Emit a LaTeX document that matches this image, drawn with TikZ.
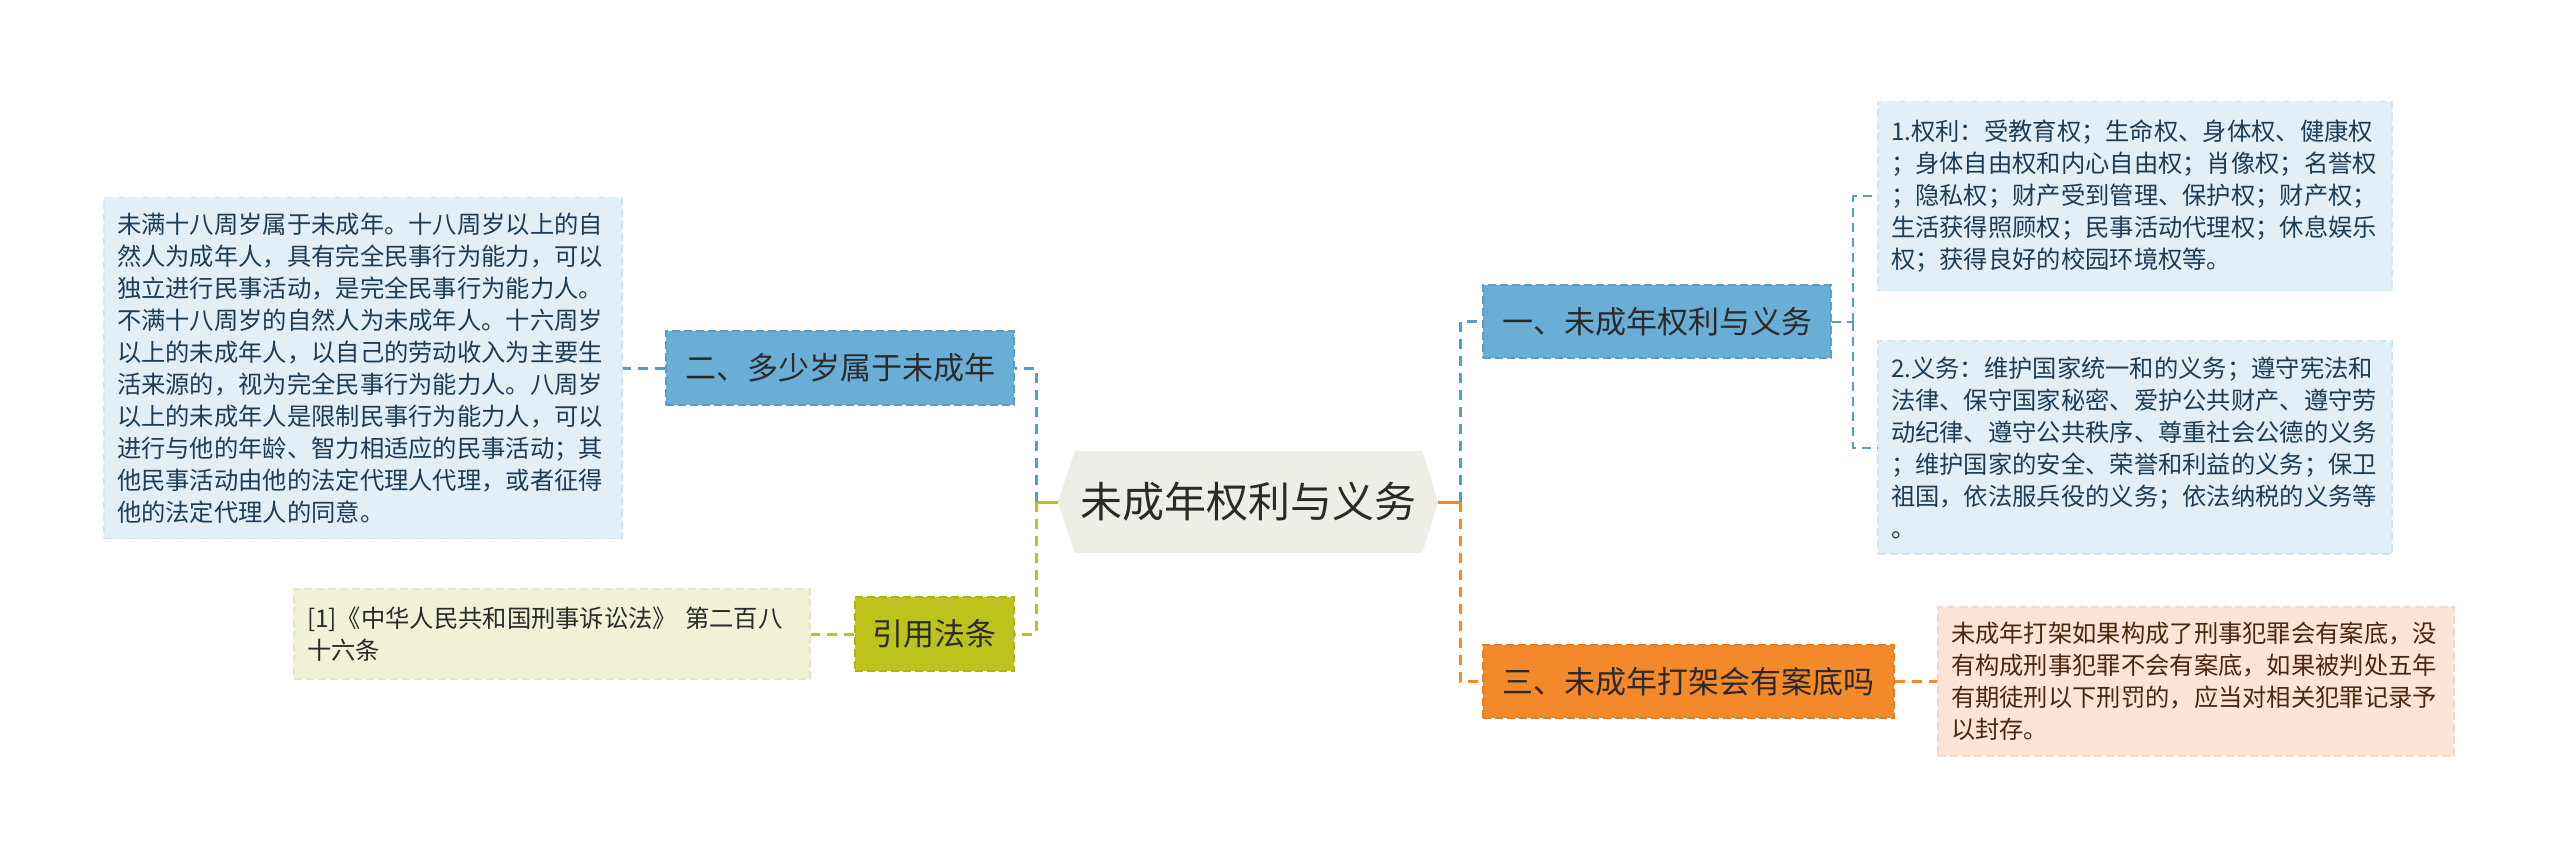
\documentclass[tikz,border=0pt]{standalone}
\usepackage{fontspec}
\setmainfont{Noto Sans CJK SC}
\usetikzlibrary{backgrounds}
\definecolor{cblue}{HTML}{6AAED6}
\definecolor{cbluedk}{HTML}{5A9CC6}
\definecolor{lblue}{HTML}{E2EFF7}
\definecolor{lbluedk}{HTML}{D3E5F0}
\definecolor{navy}{HTML}{1B3D57}
\definecolor{cgreen}{HTML}{BDC31B}
\definecolor{cgreendk}{HTML}{AEB418}
\definecolor{lgreen}{HTML}{F1F2D6}
\definecolor{lgreendk}{HTML}{E5E7C6}
\definecolor{corange}{HTML}{F4892B}
\definecolor{corangedk}{HTML}{E57B22}
\definecolor{lorange}{HTML}{FCE5D6}
\definecolor{lorangedk}{HTML}{F5D8C5}
\definecolor{brownt}{HTML}{4A2810}
\definecolor{cgrey}{HTML}{EEEEE7}
\definecolor{darkt}{HTML}{2A2A2A}
\begin{document}
\begin{tikzpicture}[x=1pt,y=-1pt,
  topic/.style={rectangle, inner sep=0pt, font=\fontsize{31}{36}\selectfont, text=darkt, line width=1.5pt, dash pattern=on 8pt off 4pt},
  tbox/.style={rectangle, inner xsep=13pt, inner ysep=0pt, align=left, font=\fontsize{24.3}{32}\selectfont, line width=1.5pt, dash pattern=on 8pt off 4pt},
  conn/.style={line width=3pt, dash pattern=on 10pt off 7pt},
  thin/.style={line width=2pt, dash pattern=on 9pt off 6pt},
  stub/.style={line width=3pt}]
\useasboundingbox (0,0) rectangle (2560,863);

% center
\node[inner sep=0pt, minimum width=380pt, minimum height=102pt, font=\fontsize{42}{48}\selectfont, text=darkt] (c) at (1248,502) {未成年权利与义务};
\begin{pgfonlayer}{background}
\fill[cgrey] (c.west) -- ([xshift=17pt]c.north west) -- ([xshift=-16pt]c.north east) -- (c.east) -- ([xshift=-16pt]c.south east) -- ([xshift=17pt]c.south west) -- cycle;
\end{pgfonlayer}

% left side
\node[topic, fill=cblue, draw=cbluedk, minimum width=348pt, minimum height=74pt] (n2) at (840,368) {二、多少岁属于未成年};
\node[tbox, fill=lblue, draw=lbluedk, text=navy, text width=492pt, minimum height=341pt] (lbox) at (363,368) {未满十八周岁属于未成年。十八周岁以上的自\\然人为成年人，具有完全民事行为能力，可以\\独立进行民事活动，是完全民事行为能力人。\\不满十八周岁的自然人为未成年人。十六周岁\\以上的未成年人，以自己的劳动收入为主要生\\活来源的，视为完全民事行为能力人。八周岁\\以上的未成年人是限制民事行为能力人，可以\\进行与他的年龄、智力相适应的民事活动；其\\他民事活动由他的法定代理人代理，或者征得\\他的法定代理人的同意。};
\node[topic, fill=cgreen, draw=cgreendk, minimum width=159pt, minimum height=74pt] (cite) at (934.5,634) {引用法条};
\node[tbox, fill=lgreen, draw=lgreendk, text=darkt, text width=490pt, minimum height=90pt] (cbox) at (552,634) {[1]《中华人民共和国刑事诉讼法》 第二百八\\十六条};

% right side
\node[topic, fill=cblue, draw=cbluedk, minimum width=348pt, minimum height=73pt] (n1) at (1657,321.5) {一、未成年权利与义务};
\node[topic, fill=corange, draw=corangedk, minimum width=411pt, minimum height=73pt] (n3) at (1688.5,681.5) {三、未成年打架会有案底吗};
\node[tbox, fill=lblue, draw=lbluedk, text=navy, text width=488pt, minimum height=189pt] (r1) at (2135,196) {1.权利：受教育权；生命权、身体权、健康权\\；身体自由权和内心自由权；肖像权；名誉权\\；隐私权；财产受到管理、保护权；财产权；\\生活获得照顾权；民事活动代理权；休息娱乐\\权；获得良好的校园环境权等。};
\node[tbox, fill=lblue, draw=lbluedk, text=navy, text width=488pt, minimum height=213pt] (r2) at (2135,447.5) {2.义务：维护国家统一和的义务；遵守宪法和\\法律、保守国家秘密、爱护公共财产、遵守劳\\动纪律、遵守公共秩序、尊重社会公德的义务\\；维护国家的安全、荣誉和利益的义务；保卫\\祖国，依法服兵役的义务；依法纳税的义务等\\。};
\node[tbox, fill=lorange, draw=lorangedk, text=brownt, text width=490pt, minimum height=149pt] (ob) at (2196,681.5) {未成年打架如果构成了刑事犯罪会有案底，没\\有构成刑事犯罪不会有案底，如果被判处五年\\有期徒刑以下刑罚的，应当对相关犯罪记录予\\以封存。};

% junctions
\coordinate (jL) at (1036,502);
\coordinate (jR) at (1460,502);
\coordinate (jS) at (1853,321.5);

% connectors
\draw[stub, cgreen] (c.west) -- (jL);
\draw[conn, cbluedk] (jL) |- (n2.east);
\draw[conn, cgreen] (jL) |- (cite.east);
\draw[conn, cbluedk] (n2.west) -- (lbox.east);
\draw[conn, cgreen] (cite.west) -- (cbox.east);

\draw[stub, corange] (c.east) -- (jR);
\draw[conn, cbluedk] (jR) |- (n1.west);
\draw[conn, corange] (jR) |- (n3.west);
\draw[conn, corange] (n3.east) -- (ob.west);

\draw[thin, cbluedk] (n1.east) -- (jS);
\draw[thin, cbluedk] (jS) |- (r1.west);
\draw[thin, cbluedk] (jS) |- (r2.west);
\end{tikzpicture}
\end{document}
